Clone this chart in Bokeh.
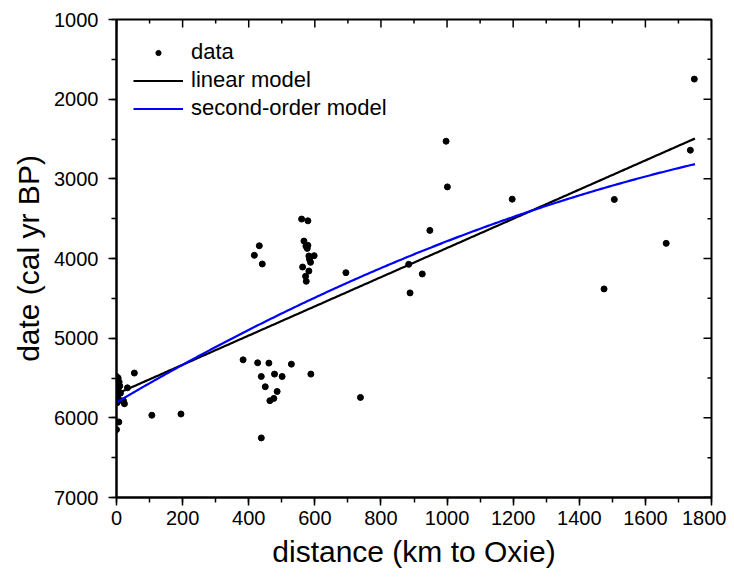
import numpy as np
from bokeh.plotting import figure
from bokeh.models import Range1d, Legend, LegendItem, FixedTicker
from bokeh.embed import file_html
from bokeh.resources import INLINE

# ---- data ----
distance = [0, 5, 2, 8, 3, 10, 1, 6, 12, 0, 4, 9, 2, 21, 24, 33, 54, 7, 0, 107, 195,
            383, 427, 461, 529, 438, 478, 501, 588, 450, 486, 476, 464, 438, 738,
            560, 579, 432, 417, 441, 567, 573, 579, 577, 582, 598, 584, 587, 563, 582, 572, 574, 694,
            884, 888, 925, 948, 997, 1001, 1197, 1506, 1475, 1663, 1736, 1748]
date = [5480, 5500, 5530, 5550, 5580, 5600, 5630, 5660, 5690, 5720, 5750, 5780, 5810, 5785, 5823, 5623, 5438, 6052, 6148, 5967, 5952,
        5272, 5309, 5313, 5326, 5481, 5451, 5481, 5451, 5610, 5669, 5756, 5785, 6252, 5744,
        3505, 3527, 3840, 3960, 4069, 3781, 3844, 3835, 3873, 3969, 3965, 4010, 4048, 4107, 4157, 4223, 4286, 4178,
        4073, 4432, 4194, 3647, 2528, 3101, 3255, 3259, 4382, 3810, 2641, 1748]

# model coefficients (intercept, slope, curvature)
linear_coef = [5700.0, -1.832]
quad_coef = [5806.0, -2.442, 4.189e-4]
model_span = [0, 1750]

x_ticks = [0, 200, 400, 600, 800, 1000, 1200, 1400, 1600, 1800]
x_minor = list(range(0, 1801, 100))
y_ticks = [1000, 2000, 3000, 4000, 5000, 6000, 7000]
y_minor = list(range(1000, 7001, 500))

X0, X1 = 0, 1800
Y0, Y1 = 7000, 1000

FONT = "Liberation Sans"

W, H = 726, 570
BL, BR, BT, BB = 116, 15, 19, 72
FW, FH = W - BL - BR, H - BT - BB

p = figure(width=W, height=H, output_backend="svg", toolbar_location=None,
           x_range=Range1d(X0, X1), y_range=Range1d(Y0, Y1),
           min_border_left=BL, min_border_right=BR, min_border_top=BT, min_border_bottom=BB,
           background_fill_color="white", border_fill_color="white")
p.grid.visible = False
p.outline_line_color = "black"
p.outline_line_width = 2


def style_main(ax, label, ticker):
    ax.ticker = ticker
    ax.axis_label = label
    ax.axis_label_text_font = FONT
    ax.axis_label_text_font_size = "30px"
    ax.axis_label_text_font_style = "normal"
    ax.axis_label_text_color = "black"
    ax.major_label_text_font = FONT
    ax.major_label_text_font_size = "20px"
    ax.major_label_text_color = "black"
    ax.axis_line_width = 2
    ax.axis_line_color = "black"
    ax.major_tick_line_width = 1.5
    ax.minor_tick_line_width = 1.5
    ax.major_tick_line_color = "black"
    ax.minor_tick_line_color = "black"
    ax.major_tick_in = 0
    ax.major_tick_out = 8
    ax.minor_tick_in = 0
    ax.minor_tick_out = 5


style_main(p.xaxis[0], "distance (km to Oxie)", FixedTicker(ticks=x_ticks, minor_ticks=x_minor))
style_main(p.yaxis[0], "date (cal yr BP)", FixedTicker(ticks=y_ticks, minor_ticks=y_minor))
p.xaxis[0].major_label_standoff = 5
p.xaxis[0].axis_label_standoff = 7
p.yaxis[0].major_label_standoff = 10
p.yaxis[0].axis_label_standoff = 6

# inward ticks on the top and right frame edges (lengths converted from pixels to data units)
ux = (X1 - X0) / FW          # data units per pixel, x
uy = abs(Y0 - Y1) / FH       # data units per pixel, y
maj_len, min_len = 8, 4
top_x = x_minor
top_len = [maj_len if t in x_ticks else min_len for t in top_x]
p.segment(x0=top_x, y0=[Y1] * len(top_x), x1=top_x,
          y1=[Y1 + l * uy for l in top_len], line_color="black", line_width=1.5)
right_y = y_minor
right_len = [maj_len if t in y_ticks else min_len for t in right_y]
p.segment(x0=[X1] * len(right_y), y0=right_y, x1=[X1 - l * ux for l in right_len],
          y1=right_y, line_color="black", line_width=1.5)

# models
xs = np.linspace(model_span[0], model_span[1], 300)
lin_y = linear_coef[0] + linear_coef[1] * xs
quad_y = quad_coef[0] + quad_coef[1] * xs + quad_coef[2] * xs ** 2

r_data = p.scatter(distance, date, size=6, color="black")
r_lin = p.line(xs, lin_y, line_color="black", line_width=2.2)
r_quad = p.line(xs, quad_y, line_color="#0000ff", line_width=2.2)

legend = Legend(items=[LegendItem(label="data", renderers=[r_data]),
                       LegendItem(label="linear model", renderers=[r_lin]),
                       LegendItem(label="second-order model", renderers=[r_quad])],
                location=(17, FH - 20 - 84))
legend.border_line_color = None
legend.background_fill_alpha = 0
legend.padding = 0
legend.margin = 0
legend.spacing = 0
legend.glyph_width = 50
legend.glyph_height = 13
legend.label_height = 28
legend.label_standoff = 8
legend.label_text_font = FONT
legend.label_text_font_size = "22px"
legend.label_text_color = "black"
p.add_layout(legend)

open("out.html", "w").write(file_html(p, INLINE))
